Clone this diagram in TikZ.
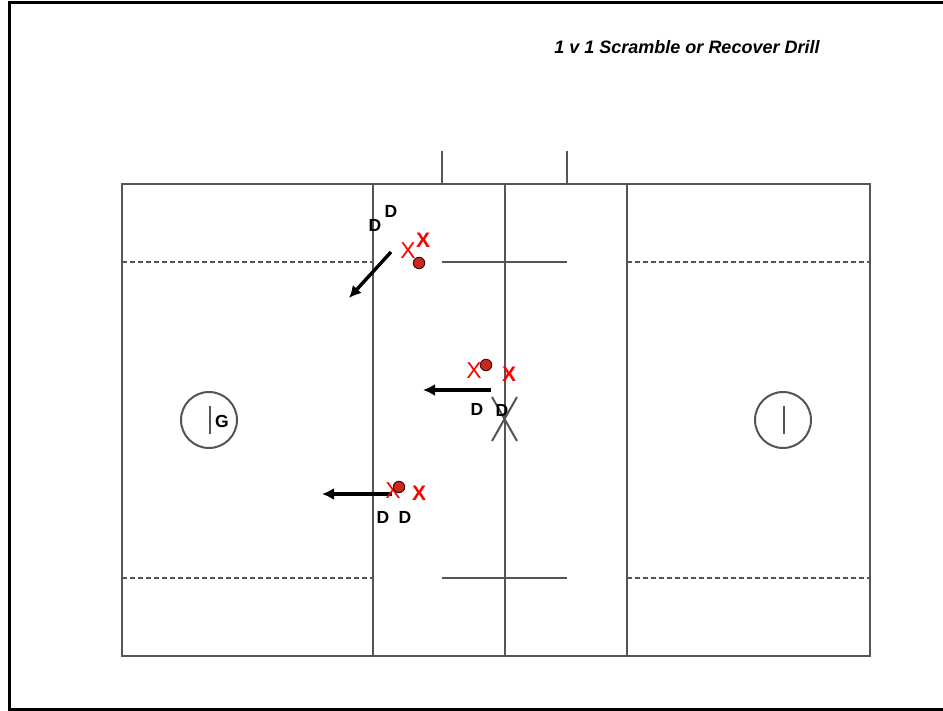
\documentclass[tikz,border=0pt]{standalone}
\usepackage{fontspec}
\setsansfont{Liberation Sans}
\usetikzlibrary{arrows.meta,positioning}
\definecolor{fieldgray}{HTML}{555555}
\definecolor{attackred}{HTML}{FF0000}
\definecolor{ballred}{HTML}{C8281E}
\definecolor{ink}{HTML}{000000}

\tikzset{
  defender/.style={font=\sffamily\bfseries\fontsize{17.5}{17.5}\selectfont,text=ink,inner sep=0pt},
  attacker/.style={font=\sffamily\fontsize{23}{23}\selectfont,text=attackred,inner sep=0pt},
  carrier/.style={font=\sffamily\bfseries\fontsize{21}{21}\selectfont,text=attackred,inner sep=0pt},
  ball/.style={circle,fill=ballred,draw=ink!70!ballred,line width=.9pt,minimum size=11.5pt,inner sep=0pt},
  run/.style={-{Latex[length=12pt,width=12pt]},line width=3.4pt,draw=ink}
}

\begin{document}
\begin{tikzpicture}[x=1pt,y=-1pt,line cap=butt,line join=miter]
  \useasboundingbox (0,0) rectangle (943,711);
  \fill[white] (0,0) rectangle (943,711);
  % page frame
  \draw[line width=3pt,ink] (9.5,709) rectangle (960,3);
  % title
  \node[font=\sffamily\bfseries\itshape\fontsize{18}{18}\selectfont] (title) at (687,47) {1 v 1 Scramble or Recover Drill};

  % field
  \begin{scope}[draw=fieldgray,line width=2pt]
    \draw (122,184) rectangle (870,656);
    \foreach \x in {373,505,627}{
      \draw (\x,184) -- (\x,656);
    }
    \foreach \y in {262,578}{
      \draw[dashed,dash pattern=on 5pt off 3pt] (122,\y) -- (373,\y);
      \draw[dashed,dash pattern=on 5pt off 3pt] (627,\y) -- (870,\y);
      \draw (442,\y) -- (567,\y);
    }
    \foreach \x in {442,567}{
      \draw (\x,151) -- (\x,184);
    }
    % creases and goals
    \draw (209,420) circle [radius=28];
    \draw (210,406) -- (210,434);
    \draw (783,420) circle [radius=28];
    \draw (784,406) -- (784,434);
    % face-off X
    \draw (492,397) -- (517,441);
    \draw (517,397) -- (492,441);
  \end{scope}
  \node[defender] (goalie) at (222,421) {G};

  % top group
  \node[defender] (dtopa) at (375,225) {D};
  \node[defender] (dtopb) at (391,211) {D};
  \node[attacker] (xtopa) at (408,251) {X};
  \node[carrier] (xtopb) at (423,240) {X};
  \node[ball] (balltop) at (419,263) {};
  \coordinate (runtops) at (391,252);
  \coordinate (runtope) at (349,298);
  \draw[run] (runtops) -- (runtope);

  % middle group
  \node[attacker] (xmida) at (474,371) {X};
  \node[ball] (ballmid) at (486,365) {};
  \node[carrier] (xmidb) at (509,374) {X};
  \node[defender] (dmida) at (477,409) {D};
  \node[defender] (dmidb) at (502,410) {D};
  \coordinate (runmids) at (491,390);
  \coordinate (runmide) at (423,390);
  \draw[run] (runmids) -- (runmide);

  % bottom group
  \coordinate (runbots) at (392,494);
  \coordinate (runbote) at (322,494);
  \draw[run] (runbots) -- (runbote);
  \node[attacker] (xbota) at (393,491) {X};
  \node[ball] (ballbot) at (399,487) {};
  \node[carrier] (xbotb) at (419,493) {X};
  \node[defender] (dbota) at (383,517) {D};
  \node[defender] (dbotb) at (405,517) {D};
\end{tikzpicture}
\end{document}
